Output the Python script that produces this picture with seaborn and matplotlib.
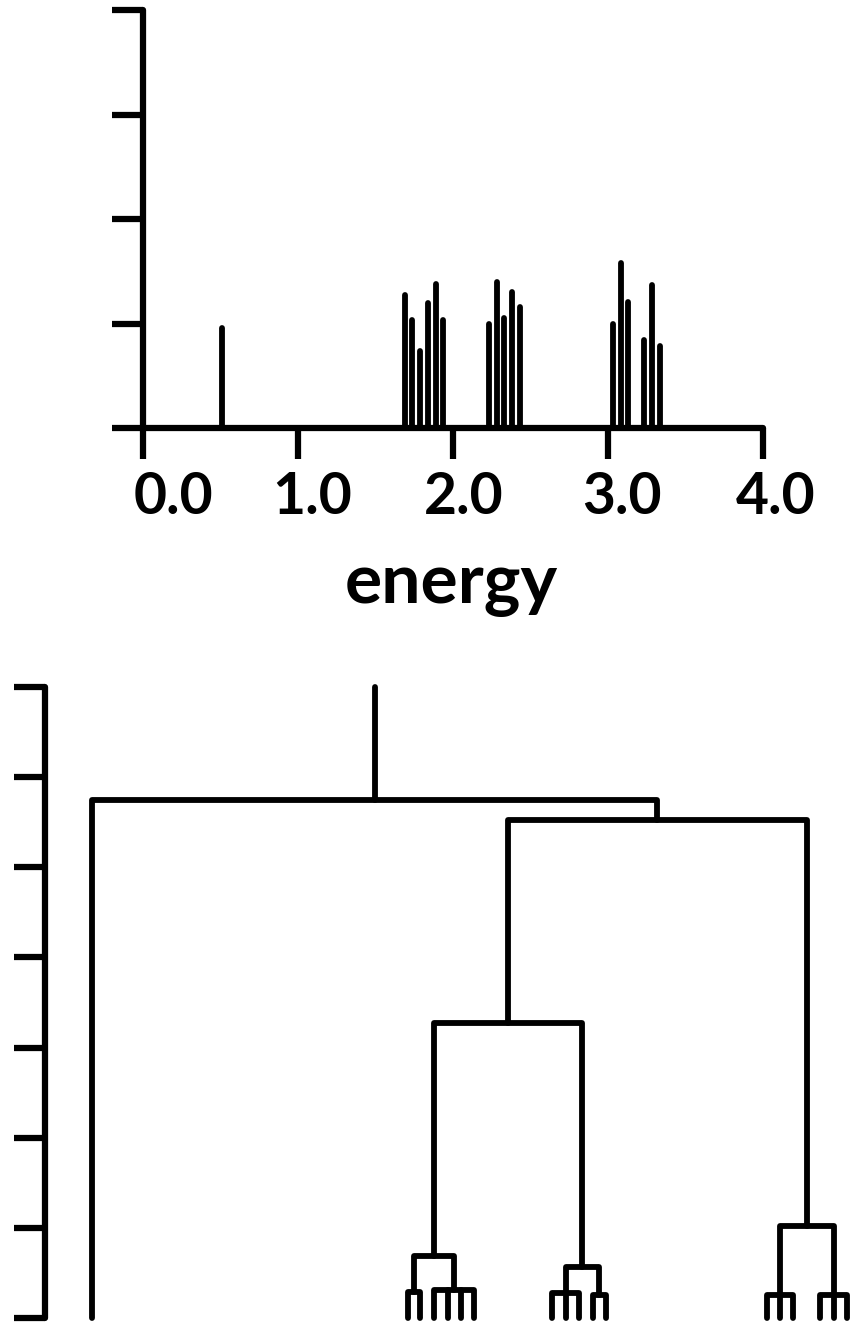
import matplotlib
matplotlib.use("Agg")
import matplotlib.pyplot as plt
import matplotlib.transforms as mtransforms
import numpy as np
import pandas as pd
import seaborn as sns

# ---- spectrum: energy levels and line intensities ----
energy = [0.51,
          1.69, 1.737, 1.79, 1.84, 1.89, 1.937,
          2.232, 2.282, 2.331, 2.383, 2.432,
          3.034, 3.086, 3.131, 3.234, 3.286, 3.335]
intensity = [0.96,
             1.27, 1.03, 0.74, 1.20, 1.38, 1.03,
             1.00, 1.40, 1.05, 1.30, 1.16,
             1.00, 1.58, 1.21, 0.84, 1.37, 0.78]
energy_ticks = [0.0, 1.0, 2.0, 3.0, 4.0]
energy_tick_labels = ["0.0", "1.0", "2.0", "3.0", "4.0"]
intensity_ticks = [0, 1, 2, 3, 4]

# ---- cluster tree over the levels (children: level index or node name) ----
node_names = ["a", "b", "c", "d", "e", "f", "g", "h", "i", "j", "k", "root"]
node_children = [[1, 2], [3, 4, 5, 6], [7, 8, 9], [10, 11],
                 [12, 13, 14], [15, 16, 17],
                 ["a", "b"], ["c", "d"], ["e", "f"],
                 ["g", "h"], ["j", "i"], [0, "k"]]
node_heights = [0.29, 0.31, 0.28, 0.26, 0.26, 0.26,
                0.69, 0.57, 1.02, 3.27, 5.53, 5.75]
stem_top = 7.0
distance_ticks = [0, 1, 2, 3, 4, 5, 6, 7]

sns.set_style("ticks", {"axes.edgecolor": "black", "xtick.color": "black",
                        "ytick.color": "black", "text.color": "black"})
plt.rcParams["font.family"] = ["Lato", "DejaVu Sans"]

W, H = 851, 1324
fig = plt.figure(figsize=(W / 100, H / 100), dpi=100)

LW = 4.2
SPINE_LW = 4.5
TICK_LEN = 22

# ---------------- spectrum panel ----------------
ax1 = fig.add_axes([143 / W, (H - 428) / H, 620 / W, 418 / H])
spec_rows = []
for i, (e, h) in enumerate(zip(energy, intensity)):
    spec_rows.append({"level": i, "energy": e, "intensity": 0.0})
    spec_rows.append({"level": i, "energy": e, "intensity": h})
spec = pd.DataFrame(spec_rows)
sns.lineplot(data=spec, x="energy", y="intensity", units="level",
             estimator=None, sort=False, color="black", lw=LW,
             solid_capstyle="round", legend=False, ax=ax1, clip_on=False)

ax1.set_xlim(energy_ticks[0], energy_ticks[-1])
ax1.set_ylim(intensity_ticks[0], intensity_ticks[-1])
sns.despine(ax=ax1)
for side in ("left", "bottom"):
    ax1.spines[side].set_linewidth(SPINE_LW)
    ax1.spines[side].set_capstyle("round")
ax1.set_xticks(energy_ticks)
ax1.set_xticklabels(energy_tick_labels, fontsize=41, fontweight="bold",
                    color="black")
ax1.set_yticks(intensity_ticks)
ax1.set_yticklabels([])
ax1.tick_params(axis="both", direction="out", length=TICK_LEN, width=SPINE_LW,
                color="black")
ax1.tick_params(axis="x", pad=9)
ax1.set_xlabel("")
ax1.set_ylabel("")
# small rightward nudges of the tick labels (pixels)
label_nudge = [30, 14, 11, 14, 13]
for lab, dx in zip(ax1.get_xticklabels(), label_nudge):
    shift = mtransforms.ScaledTranslation(dx / 100, 0, fig.dpi_scale_trans)
    lab.set_transform(lab.get_transform() + shift)

fig.text(451 / W, (H - 603) / H, "energy", ha="center", va="baseline",
         fontsize=50, fontweight="bold", color="black")

# ---------------- dendrogram panel ----------------
ax2 = fig.add_axes([45 / W, 6 / H, (W - 45) / W, 631 / H])

pos = {i: e for i, e in enumerate(energy)}
hgt = {i: 0.0 for i in range(len(energy))}
seg_rows = []
seg_id = 0


def add_segment(points):
    global seg_id
    for x, y in points:
        seg_rows.append({"seg": seg_id, "x": x, "y": y})
    seg_id += 1


for name, kids, h in zip(node_names, node_children, node_heights):
    xs = [pos[k] for k in kids]
    first, last = kids[0], kids[-1]
    add_segment([(pos[first], hgt[first]), (pos[first], h),
                 (pos[last], h), (pos[last], hgt[last])])
    for k in kids[1:-1]:
        add_segment([(pos[k], hgt[k]), (pos[k], h)])
    pos[name] = (xs[0] + xs[-1]) / 2
    hgt[name] = h

add_segment([(pos["root"], hgt["root"]), (pos["root"], stem_top)])
segs = pd.DataFrame(seg_rows)
sns.lineplot(data=segs, x="x", y="y", units="seg", estimator=None, sort=False,
             color="black", lw=LW, solid_capstyle="round",
             solid_joinstyle="round", legend=False, ax=ax2, clip_on=False)

ax2.set_xlim(0.3324, 3.35)
ax2.set_ylim(distance_ticks[0], distance_ticks[-1])
sns.despine(ax=ax2, bottom=True)
ax2.spines["left"].set_linewidth(SPINE_LW)
ax2.spines["left"].set_capstyle("round")
ax2.set_xticks([])
ax2.set_yticks(distance_ticks)
ax2.set_yticklabels([])
ax2.tick_params(axis="y", direction="out", length=TICK_LEN, width=SPINE_LW,
                color="black")
ax2.set_xlabel("")
ax2.set_ylabel("")

fig.savefig("out.png", dpi=100, facecolor="white")
